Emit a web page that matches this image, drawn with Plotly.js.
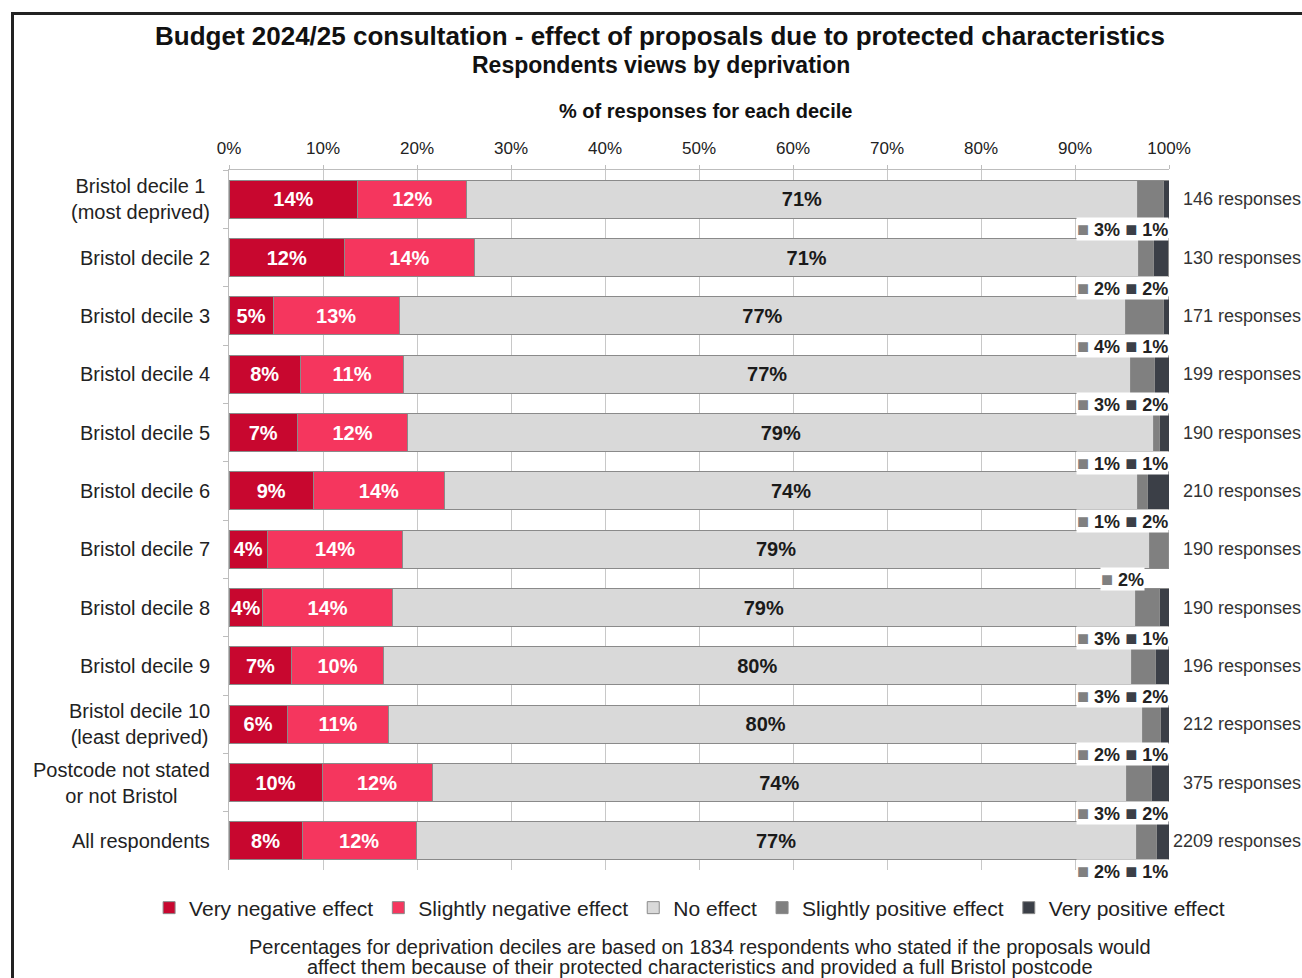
<!DOCTYPE html>
<html>
<head>
<meta charset="utf-8">
<script src="https://cdn.plot.ly/plotly-3.0.1.min.js"></script>
<style>
  body { margin: 0; background: #fff; overflow: hidden; }
  #frame { position: absolute; left: 11px; top: 12px; width: 1400px; height: 1100px; border: 3px solid #222; }
  #chart { position: absolute; left: 0; top: 0; width: 1302px; height: 978px; }
</style>
</head>
<body>
<div id="frame"></div>
<div id="chart"></div>
<script>
// categories (top to bottom)
const groups = [
  'Bristol decile 1<br>(most deprived)',
  'Bristol decile 2',
  'Bristol decile 3',
  'Bristol decile 4',
  'Bristol decile 5',
  'Bristol decile 6',
  'Bristol decile 7',
  'Bristol decile 8',
  'Bristol decile 9',
  'Bristol decile 10<br>(least deprived)',
  'Postcode not stated<br>or not Bristol',
  'All respondents'
];
const responses = [146, 130, 171, 199, 190, 210, 190, 190, 196, 212, 375, 2209];

// % of responses
const veryNeg     = [13.7, 12.3, 4.7, 7.6, 7.3, 9.0, 4.1, 3.6, 6.7, 6.2, 9.9, 7.8];
const slightlyNeg = [11.6, 13.8, 13.4, 11.0, 11.7, 13.9, 14.4, 13.8, 9.7, 10.8, 11.7, 12.1];
const noEffect    = [71.3, 70.7, 77.3, 77.3, 79.4, 73.8, 79.4, 79.0, 79.6, 80.2, 73.9, 76.6];
const slightlyPos = [2.8, 1.6, 4.0, 2.6, 0.6, 1.0, 2.0, 2.6, 2.6, 1.9, 2.6, 2.2];
const veryPos     = [0.6, 1.5, 0.6, 1.5, 1.0, 2.3, 0, 1.0, 1.5, 0.9, 1.9, 1.3];

const FONT = 'Arial, "Liberation Sans", sans-serif';
const colors = ['#c8072f', '#f5365e', '#d9d9d9', '#808080', '#3b3f47'];
const names = ['Very negative effect', 'Slightly negative effect', 'No effect',
               'Slightly positive effect', 'Very positive effect'];
const series = [veryNeg, slightlyNeg, noEffect, slightlyPos, veryPos];

const pct = v => Math.round(v) + '%';

const traces = series.map((vals, k) => {
  const t = {
    type: 'bar',
    orientation: 'h',
    name: names[k],
    y: groups,
    x: vals,
    marker: { color: colors[k], line: { color: '#8a8a8a', width: 1 } },
    hoverinfo: 'skip'
  };
  if (k < 3) {
    t.text = vals.map(pct);
    t.texttemplate = '<b>%{text}</b>';
    t.textposition = 'inside';
    t.insidetextanchor = 'middle';
    t.textangle = 0;
    t.constraintext = 'none';
    t.textfont = { family: FONT, size: 20, color: k < 2 ? '#ffffff' : '#1a1a1a' };
  } else {
    t.textposition = 'none';
  }
  return t;
});

const annotations = [];

// category labels, centred lines
groups.forEach(g => {
  annotations.push({
    xref: 'paper', x: 0, xanchor: 'right', xshift: -17,
    yref: 'y', y: g, yanchor: 'middle',
    text: g, align: 'center', showarrow: false,
    font: { family: FONT, size: 20, color: '#222' }
  });
});

// response counts, right-aligned at the page edge
groups.forEach((g, i) => {
  annotations.push({
    xref: 'x', x: 100, xanchor: 'right', xshift: 134,
    yref: 'y', y: g, yanchor: 'middle',
    text: responses[i] + ' responses', showarrow: false,
    font: { family: FONT, size: 18, color: '#333' }
  });
});

// small labels for the positive segments
const sq = c => `<span style="color:${c};font-size:20px">■</span>`;
groups.forEach((g, i) => {
  let txt = `${sq(colors[3])} <b>${pct(slightlyPos[i])}</b>`;
  if (veryPos[i] > 0) txt += ` ${sq(colors[4])} <b>${pct(veryPos[i])}</b>`;
  annotations.push({
    xref: 'x', x: 95.1, xanchor: 'center',
    yref: 'y', y: g, yanchor: 'middle', yshift: -30,
    text: txt, showarrow: false, bgcolor: '#ffffff', borderpad: 0,
    font: { family: FONT, size: 18, color: '#222' }
  });
});

// titles and footnote
annotations.push(
  { xref: 'paper', x: 0.5, xshift: -39, yref: 'paper', y: 1, yshift: 134, yanchor: 'middle',
    text: '<b>Budget 2024/25 consultation - effect of proposals due to protected characteristics</b>',
    showarrow: false, font: { family: FONT, size: 26, color: '#111' } },
  { xref: 'paper', x: 0.5, xshift: -38, yref: 'paper', y: 1, yshift: 105, yanchor: 'middle',
    text: '<b>Respondents views by deprivation</b>',
    showarrow: false, font: { family: FONT, size: 23, color: '#111' } },
  { xref: 'paper', x: 0.5, xshift: 6, yref: 'paper', y: 1, yshift: 59, yanchor: 'middle',
    text: '<b>% of responses for each decile</b>',
    showarrow: false, font: { family: FONT, size: 20, color: '#111' } },
  { xref: 'paper', x: 0.5, xshift: 1, yref: 'paper', y: 0, yshift: -77, yanchor: 'middle',
    text: 'Percentages for deprivation deciles are based on 1834 respondents who stated if the proposals would',
    showarrow: false, font: { family: FONT, size: 20, color: '#222' } },
  { xref: 'paper', x: 0.5, xshift: 1, yref: 'paper', y: 0, yshift: -97, yanchor: 'middle',
    text: 'affect them because of their protected characteristics and provided a full Bristol postcode',
    showarrow: false, font: { family: FONT, size: 20, color: '#222' } }
);

const layout = {
  width: 1302,
  height: 978,
  margin: { l: 229, r: 133, t: 170, b: 108 },
  paper_bgcolor: 'rgba(0,0,0,0)',
  plot_bgcolor: 'rgba(0,0,0,0)',
  barmode: 'stack',
  bargap: 0.35,
  font: { family: FONT, color: '#222' },
  showlegend: true,
  legend: {
    orientation: 'h',
    x: -0.085, xanchor: 'left',
    y: -0.025, yanchor: 'top',
    font: { family: FONT, size: 21, color: '#222' },
    traceorder: 'normal'
  },
  xaxis: {
    side: 'top',
    range: [0, 100],
    dtick: 10,
    ticksuffix: '%',
    tickangle: 0,
    showgrid: true,
    gridcolor: '#c8c8c8',
    zeroline: false,
    showline: true,
    linecolor: '#bdbdbd',
    ticks: 'outside',
    ticklen: 4,
    tickcolor: '#bdbdbd',
    ticklabelstandoff: 4,
    tickfont: { family: FONT, size: 17, color: '#222' },
    automargin: false,
    fixedrange: true
  },
  yaxis: {
    type: 'category',
    range: [groups.length - 0.5, -0.5],
    autorange: false,
    showticklabels: false,
    showgrid: false,
    showline: true,
    linecolor: '#bdbdbd',
    ticks: 'outside',
    tickson: 'boundaries',
    ticklen: 5,
    tickcolor: '#bdbdbd',
    automargin: false,
    fixedrange: true
  },
  annotations: annotations
};

Plotly.newPlot('chart', traces, layout, { displayModeBar: false, staticPlot: true });
</script>
</body>
</html>
